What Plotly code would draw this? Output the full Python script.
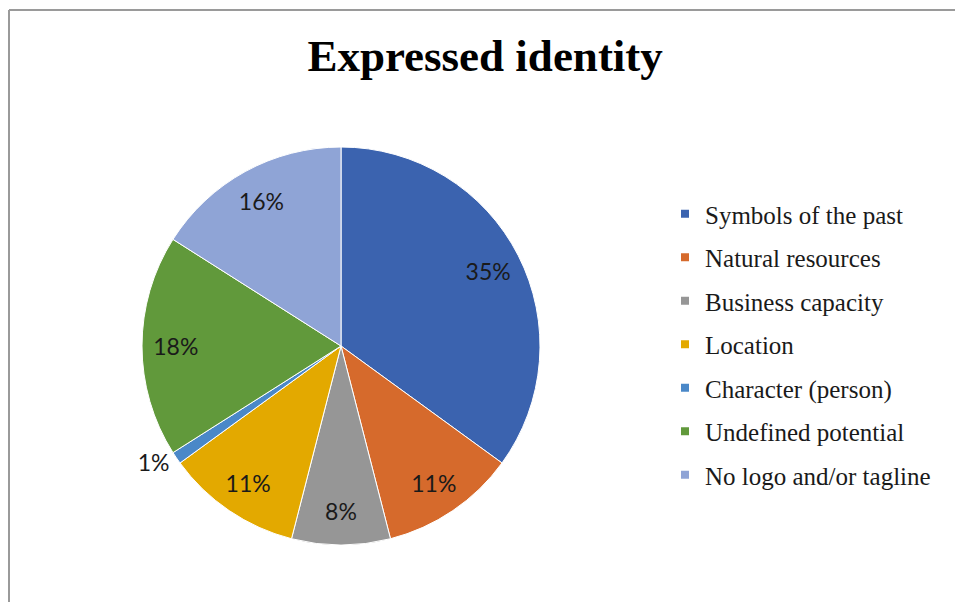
import plotly.graph_objects as go

categories = ["Symbols of the past", "Natural resources", "Business capacity",
              "Location", "Character (person)", "Undefined potential",
              "No logo and/or tagline"]
values = [35, 11, 8, 11, 1, 18, 16]
colors = ["#3B63AF", "#D66A2C", "#969696", "#E3A900", "#4A88C8", "#61993B", "#8FA4D6"]
text_pos = ["inside", "inside", "inside", "inside", "outside", "inside", "inside"]

dom = dict(x=[(341 - 199) / 955, (341 + 199) / 955],
           y=[(256 - 199) / 602, (256 + 199) / 602])

fig = go.Figure()
# coloured pie (no text)
fig.add_trace(go.Pie(
    labels=categories, values=values, sort=False, direction="clockwise",
    rotation=0, marker=dict(colors=colors, line=dict(color="white", width=1)),
    textinfo="none", showlegend=False, domain=dom,
))
# transparent ring overlay that carries the percentage labels
fig.add_trace(go.Pie(
    labels=categories, values=values, sort=False, direction="clockwise",
    rotation=0, hole=0.66,
    marker=dict(colors=["rgba(0,0,0,0)"] * len(values), line=dict(width=0)),
    texttemplate="%{percent:.0%}", textposition=text_pos,
    insidetextorientation="horizontal",
    textfont=dict(family="Lato", size=23, color="#1a1a1a"),
    showlegend=False, hoverinfo="skip", domain=dom,
))

for i, (c, col) in enumerate(zip(categories, colors)):
    fig.add_trace(go.Scatter(
        x=[None], y=[None], mode="markers", name=c, legendgroup=f"g{i}",
        marker=dict(symbol="square", size=8, color=col),
    ))

fig.update_layout(
    width=955, height=602, margin=dict(l=0, r=0, t=0, b=0),
    paper_bgcolor="white", plot_bgcolor="white",
    xaxis=dict(visible=False), yaxis=dict(visible=False),
    title=dict(text="<b>Expressed identity</b>", x=0.508, xanchor="center",
               y=1 - 55 / 602, yanchor="middle",
               font=dict(family="Liberation Serif", size=45, color="black")),
    legend=dict(x=665 / 955, y=1 - 191 / 602, xanchor="left", yanchor="top",
                font=dict(family="Liberation Serif", size=25, color="#1a1a1a"),
                tracegroupgap=8, itemwidth=30, bgcolor="rgba(0,0,0,0)"),
    shapes=[
        dict(type="line", xref="paper", yref="paper", x0=9 / 955, x1=9 / 955,
             y0=0, y1=1 - 10 / 602, line=dict(color="#9a9a9a", width=2)),
        dict(type="line", xref="paper", yref="paper", x0=9 / 955, x1=1,
             y0=1 - 10 / 602, y1=1 - 10 / 602, line=dict(color="#9a9a9a", width=2)),
    ],
)

fig.write_html("out.html")
